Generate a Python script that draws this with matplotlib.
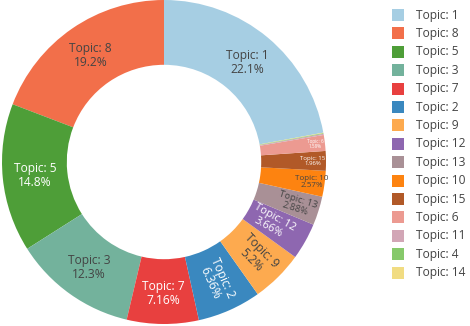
import matplotlib
matplotlib.use("Agg")
import matplotlib.pyplot as plt
from matplotlib.patches import Rectangle
import numpy as np

plt.rcParams['font.family'] = ['Open Sans', 'DejaVu Sans']

topics = ["Topic: 1", "Topic: 8", "Topic: 5", "Topic: 3", "Topic: 7", "Topic: 2", "Topic: 9",
          "Topic: 12", "Topic: 13", "Topic: 10", "Topic: 15", "Topic: 6", "Topic: 11",
          "Topic: 4", "Topic: 14"]
shares = [22.1, 19.2, 14.8, 12.3, 7.16, 6.36, 5.2, 3.66, 2.88, 2.57, 1.96, 1.58, 0.12, 0.07, 0.04]
colors = ["#a6cee3", "#f26f4a", "#4e9e38", "#73b29c", "#e8403f", "#3a88bf", "#fdaa4f",
          "#8e67b0", "#a99096", "#fd8310", "#b15928", "#ec9a91", "#d2a6b6", "#86c96b", "#f1dc82"]
text_colors = ["#444444", "#444444", "white", "#444444", "white", "white", "#444444",
               "white", "#444444", "#444444", "white", "white", "#444444", "#444444", "#444444"]
font_px = [12, 12, 12, 12, 12, 12, 12, 11, 9.5, 8, 6, 4.6, 0, 0, 0]
label_r = [0.8, 0.8, 0.8, 0.8, 0.81, 0.8, 0.81, 0.76, 0.86, 0.92, 0.92, 0.94, 0, 0, 0]
radial = [False, False, False, False, False, True, True, True, True, False, False, False, False, False, False]

W, H = 470, 326
fig = plt.figure(figsize=(W / 100, H / 100), dpi=100)
cx, cy, R = 164, 162, 162
ax = fig.add_axes([(cx - R) / W, (H - cy - R) / H, 2 * R / W, 2 * R / H])

total = sum(shares)
start = 90 - 360 * shares[0] / total
wedges, _ = ax.pie(shares, colors=colors, startangle=start, counterclock=True,
                   radius=1, wedgeprops=dict(width=0.4, linewidth=0))
ax.set_xlim(-1, 1)
ax.set_ylim(-1, 1)
ax.set_aspect('equal')
ax.axis('off')

px2pt = 0.72
for i, w in enumerate(wedges):
    if font_px[i] == 0:
        continue
    mid = (w.theta1 + w.theta2) / 2
    r = label_r[i]
    x = r * np.cos(np.radians(mid))
    y = r * np.sin(np.radians(mid))
    rot = 0
    if radial[i]:
        rot = mid % 360
        if rot > 180:
            rot -= 360
        if rot < -90:
            rot += 180
        if rot > 90:
            rot -= 180
    label = f"{topics[i]}\n{shares[i]:g}%"
    ax.text(x, y, label, ha='center', va='center', rotation=rot, rotation_mode='anchor',
            fontsize=font_px[i] * px2pt, color=text_colors[i], linespacing=1.1)

# legend
for i, (t, c) in enumerate(zip(topics, colors)):
    yc = 15 + i * 18.4
    fig.patches.append(Rectangle((391.5 / W, (H - yc - 6) / H), 12 / W, 12 / H,
                                 transform=fig.transFigure, facecolor=c, edgecolor='none'))
    fig.text(416.5 / W, (H - yc) / H, t, ha='left', va='center', fontsize=12 * px2pt,
             color="#444444")

fig.savefig("out.png", dpi=100)
